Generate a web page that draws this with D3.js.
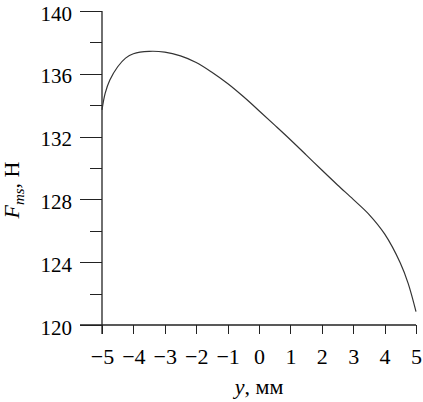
<!DOCTYPE html>
<html>
<head>
<meta charset="utf-8">
<script src="https://cdn.jsdelivr.net/npm/d3@7"></script>
<style>
  body { margin: 0; background: #fff; }
  svg text { font-family: "Liberation Serif", "Times New Roman", serif; fill: #000; }
</style>
</head>
<body>
<div id="chart"></div>
<script>
// displacement y, mm
const yPos = [-5, -4.9, -4.75, -4.5, -4.25, -4, -3.5, -3, -2.5, -2, -1.5, -1, -0.5,
              0, 0.5, 1, 1.5, 2, 2.5, 3, 3.5, 4, 4.5, 4.75, 5];
// force F_ms, H
const force = [133.7, 134.75, 135.6, 136.45, 137.0, 137.28, 137.43, 137.38, 137.14, 136.72, 136.1, 135.38, 134.55,
               133.65, 132.73, 131.8, 130.84, 129.87, 128.92, 128.0, 127.05, 125.8, 123.95, 122.65, 120.85];

const xTicks = [-5, -4, -3, -2, -1, 0, 1, 2, 3, 4, 5];
const yMajor = [120, 124, 128, 132, 136, 140];
const yMinor = [122, 126, 130, 134, 138];

const width = 423, height = 402;
const serif = "Liberation Serif, Times New Roman, serif";

const svg = d3.select("#chart").append("svg")
    .attr("width", width)
    .attr("height", height);

const x = d3.scaleLinear().domain([-5, 5]).range([102, 416]);
const y = d3.scaleLinear().domain([120, 140]).range([325, 11]);

const ink = "#222";

// y axis, major ticks with labels
const yAxis = svg.append("g")
    .attr("transform", "translate(" + x(-5) + ",0)")
    .call(d3.axisLeft(y).tickValues(yMajor).tickSize(22).tickPadding(8).tickFormat(d3.format("d")))
    .attr("font-family", serif)
    .attr("font-size", 21);
yAxis.select(".domain").remove();
yAxis.selectAll("line").attr("stroke", ink).attr("shape-rendering", "crispEdges");
yAxis.selectAll("text").attr("dy", "0.43em");

// y axis, minor ticks
const yAxisMinor = svg.append("g")
    .attr("transform", "translate(" + x(-5) + ",0)")
    .call(d3.axisLeft(y).tickValues(yMinor).tickSize(12).tickFormat(""));
yAxisMinor.select(".domain").remove();
yAxisMinor.selectAll("line").attr("stroke", ink).attr("shape-rendering", "crispEdges");

// x axis
const xAxis = svg.append("g")
    .attr("transform", "translate(0," + y(120) + ")")
    .call(d3.axisBottom(x).tickValues(xTicks).tickSize(9).tickPadding(14))
    .attr("font-family", serif)
    .attr("font-size", 22);
xAxis.select(".domain").remove();
xAxis.selectAll("line").attr("stroke", ink).attr("shape-rendering", "crispEdges");

// axis lines
svg.append("line")
    .attr("x1", x(-5)).attr("x2", x(-5))
    .attr("y1", y(140)).attr("y2", y(120) + 9)
    .attr("stroke", ink).attr("stroke-width", 1.3);
svg.append("line")
    .attr("x1", x(-5) - 22).attr("x2", x(5))
    .attr("y1", y(120)).attr("y2", y(120))
    .attr("stroke", ink).attr("stroke-width", 1.3);

// curve
const line = d3.line()
    .x((d, i) => x(yPos[i]))
    .y((d, i) => y(force[i]))
    .curve(d3.curveCatmullRom.alpha(0.5));

svg.append("path")
    .datum(force)
    .attr("d", line)
    .attr("fill", "none")
    .attr("stroke", "#333")
    .attr("stroke-width", 1.2);

// x label
const xl = svg.append("text")
    .attr("x", (x(-5) + x(5)) / 2)
    .attr("y", 394)
    .attr("text-anchor", "middle")
    .style("font-size", "22px");
xl.append("tspan").style("font-style", "italic").text("y");
xl.append("tspan").text(", мм");

// y label
const yl = svg.append("text")
    .attr("transform", "translate(19,190) rotate(-90)")
    .attr("text-anchor", "middle")
    .style("font-size", "22px");
yl.append("tspan").style("font-style", "italic").text("F");
yl.append("tspan").style("font-style", "italic").style("font-size", "15px").attr("dy", 5).text("ms");
yl.append("tspan").attr("dy", -5).text(", Н");
</script>
</body>
</html>
